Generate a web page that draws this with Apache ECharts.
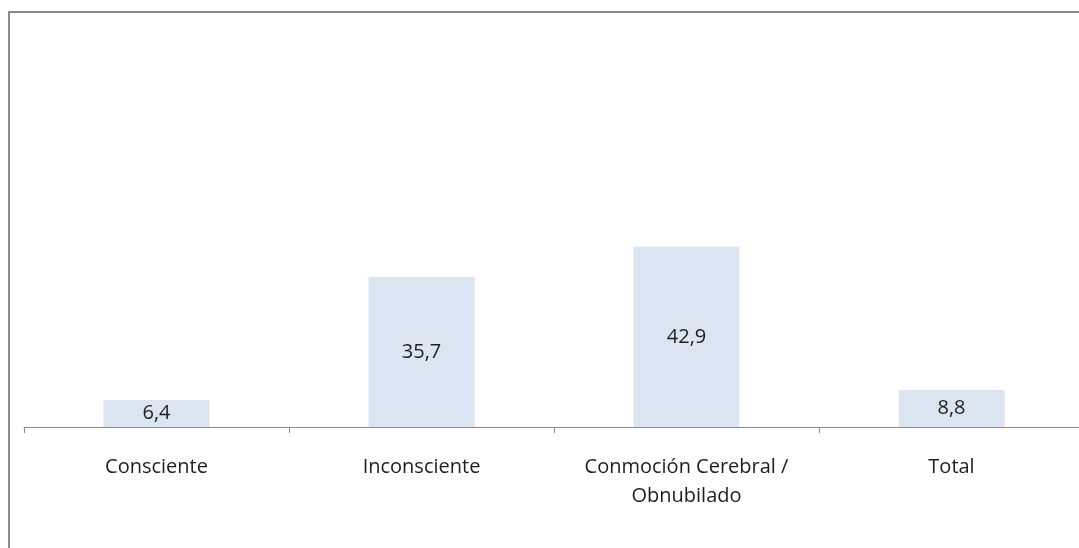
<!DOCTYPE html>
<html><head><meta charset="utf-8">
<script src="https://cdn.jsdelivr.net/npm/echarts@6/dist/echarts.min.js"></script>
<style>html,body{margin:0;padding:0;background:#fff;overflow:hidden;width:1079px;height:548px}#c{width:1084px;height:548px}</style>
</head><body><div id="c"></div>
<script>
const categories = ['Consciente', 'Inconsciente', 'Conmoción Cerebral /\nObnubilado', 'Total'];
const values = [6.4, 35.7, 42.9, 8.8];

const FONT = '"Open Sans", sans-serif';
const chart = echarts.init(document.getElementById('c'));
chart.setOption({
  animation: false,
  backgroundColor: '#ffffff',
  textStyle: { fontFamily: FONT },
  graphic: [
    { type: 'line', shape: { x1: 8, y1: 12, x2: 1084, y2: 12 }, style: { stroke: '#8c8c8c', lineWidth: 2 } },
    { type: 'line', shape: { x1: 9, y1: 12, x2: 9, y2: 548 }, style: { stroke: '#8c8c8c', lineWidth: 2 } }
  ],
  grid: { left: 24, right: 0, top: 7, bottom: 121 },
  xAxis: {
    type: 'category',
    data: categories,
    axisLine: { lineStyle: { color: '#8c8c8c', width: 1 } },
    axisTick: { show: true, length: 6, lineStyle: { color: '#8c8c8c' } },
    axisLabel: { color: '#1e1e1e', fontSize: 20, margin: 26, lineHeight: 29, interval: 0, fontFamily: FONT }
  },
  yAxis: { type: 'value', min: 0, max: 100, show: false, splitLine: { show: false } },
  series: [{
    type: 'bar',
    data: values,
    barWidth: '40%',
    itemStyle: { color: '#dbe5f1' },
    label: {
      show: true, position: 'inside', color: '#1e1e1e', fontSize: 20, fontFamily: FONT,
      formatter: p => String(p.value).replace('.', ',')
    }
  }]
});
</script></body></html>
